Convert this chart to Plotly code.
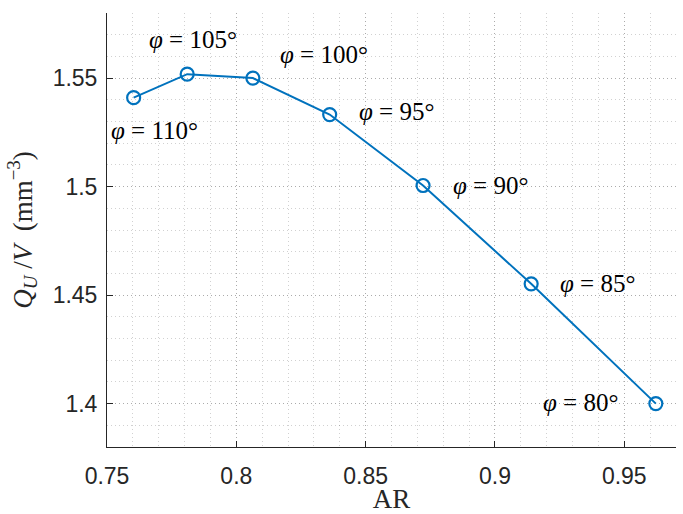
import plotly.graph_objects as go

ar = [0.7603, 0.7810, 0.8064, 0.8361, 0.8722, 0.9140, 0.9622]
qv = [1.5410, 1.5518, 1.5500, 1.5332, 1.5005, 1.4552, 1.4000]
phi = [110, 105, 100, 95, 90, 85, 80]
# label offsets in pixels (dx, dy) relative to each point
lab_dx = [21, 6, 71, 67, 67, 66, -75]
lab_dy = [-33, 35, 24, 3, 0, 0, 1]

color = "#0072BD"
serif = "Liberation Serif, DejaVu Serif, serif"
fig = go.Figure()
fig.add_trace(go.Scatter(
    x=ar, y=qv, mode="lines+markers",
    line=dict(color=color, width=2),
    marker=dict(symbol="circle-open", size=13, color=color, line=dict(width=2.2, color=color)),
    showlegend=False, cliponaxis=False, hoverinfo="skip",
))

for x, y, p, dx, dy in zip(ar, qv, phi, lab_dx, lab_dy):
    fig.add_annotation(
        x=x, y=y, xref="x", yref="y", text=f"<i>φ</i> = {p}°", showarrow=False,
        xshift=dx, yshift=dy, xanchor="center", yanchor="middle",
        font=dict(family=serif, size=25, color="black"),
    )

grid = "rgba(0,0,0,0.18)"
dash = "1px,3px"
tickfont = dict(family="Liberation Sans, Arial, sans-serif", size=23, color="#262626")
common = dict(
    ticks="inside", ticklen=6, tickcolor="#262626", tickwidth=1,
    showline=True, linecolor="#262626", linewidth=1, mirror=False,
    showgrid=True, gridcolor=grid, griddash=dash, gridwidth=1,
    zeroline=False, tickfont=tickfont, automargin=False,
)
fig.update_xaxes(
    range=[0.75, 0.97], tickmode="array", tickvals=[0.75, 0.8, 0.85, 0.9, 0.95],
    ticktext=["0.75", "0.8", "0.85", "0.9", "0.95"], ticklabelstandoff=8,
    minor=dict(dtick=0.01, tick0=0.75, showgrid=True, gridcolor=grid, griddash=dash, ticks=""),
    title=dict(text="AR", font=dict(family=serif, size=27, color="#262626"), standoff=4),
    **common,
)
fig.update_yaxes(
    range=[1.38, 1.58], tickmode="array", tickvals=[1.4, 1.45, 1.5, 1.55],
    ticktext=["1.4", "1.45", "1.5", "1.55"], ticklabelstandoff=4,
    minor=dict(dtick=0.01, tick0=1.38, showgrid=True, gridcolor=grid, griddash=dash, ticks=""),
    title=dict(text="<i>Q</i><sub><i>U</i></sub> /<i>V</i>  (mm<sup>−3</sup>)",
               font=dict(family=serif, size=27, color="#262626"), standoff=12),
    **common,
)
fig.update_layout(
    width=683, height=514, margin=dict(l=107, r=7, t=13, b=67),
    paper_bgcolor="white", plot_bgcolor="white",
)
fig.write_html("out.html", config={"displayModeBar": False},
               post_script="document.body.style.margin='0';document.body.style.overflow='hidden';")
